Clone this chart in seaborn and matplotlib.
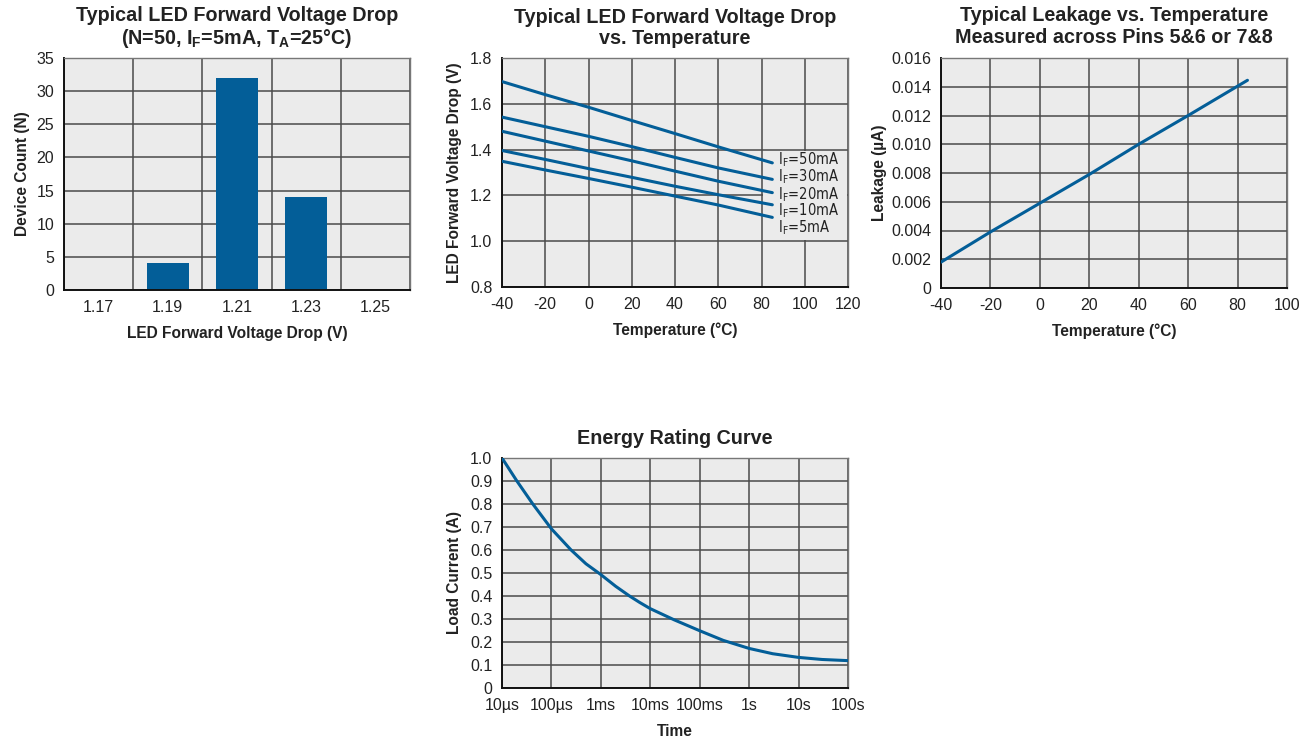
import numpy as np
import pandas as pd
import matplotlib
matplotlib.use("Agg")
import matplotlib.pyplot as plt
from matplotlib.patches import Rectangle
from matplotlib.ticker import FixedLocator, FixedFormatter
import seaborn as sns

sns.set_theme(style="white")
plt.rcParams["font.family"] = ["Liberation Sans", "DejaVu Sans"]
plt.rcParams["mathtext.default"] = "regular"
plt.rcParams["axes.unicode_minus"] = False

BLUE = "#035e98"
BG = "#ebebeb"
GRID = "#4a4a4a"

# --- Forward voltage distribution (N=50) ---
vf_bins = ["1.17", "1.19", "1.21", "1.23", "1.25"]
vf_counts = [0, 4, 32, 14, 0]

# --- Forward voltage vs temperature ---
temp_c = [-40, -20, 0, 20, 40, 60, 85]
vf_50ma = [1.697, 1.640, 1.585, 1.527, 1.470, 1.412, 1.342]
vf_30ma = [1.542, 1.500, 1.458, 1.413, 1.366, 1.320, 1.270]
vf_20ma = [1.480, 1.437, 1.394, 1.351, 1.306, 1.262, 1.212]
vf_10ma = [1.396, 1.357, 1.317, 1.279, 1.240, 1.203, 1.159]
vf_5ma = [1.349, 1.311, 1.274, 1.236, 1.197, 1.158, 1.104]
series_labels = ["50mA", "30mA", "20mA", "10mA", "5mA"]

# --- Leakage vs temperature ---
leak_temp_c = [-40, -20, 0, 20, 40, 60, 84]
leak_ua = [0.0018, 0.0039, 0.0059, 0.0079, 0.0100, 0.0120, 0.01445]

# --- Energy rating curve ---
time_s = [1e-5, 2e-5, 4.2e-5, 1e-4, 2.5e-4, 5e-4, 1e-3, 2e-3, 3.8e-3,
          6.1e-3, 1e-2, 3e-2, 1e-1, 3e-1, 1.0, 3.0, 10.0, 30.0, 100.0]
load_a = [1.0, 0.90, 0.80, 0.692, 0.60, 0.54, 0.493, 0.442, 0.40,
          0.372, 0.345, 0.297, 0.249, 0.207, 0.172, 0.149, 0.133, 0.124,
          0.119]
time_ticks = [1e-5, 1e-4, 1e-3, 1e-2, 1e-1, 1.0, 10.0, 100.0]
time_labels = ["10µs", "100µs", "1ms", "10ms", "100ms", "1s", "10s", "100s"]

W, H = 1309, 741
fig = plt.figure(figsize=(W / 100, H / 100), dpi=100)


def box(l, t, r, b):
    return [l / W, 1 - b / H, (r - l) / W, (b - t) / H]


TITLE_FS = 14.2
TICK_FS = 11.5
LABEL_FS = 11.2


def style_axes(ax):
    ax.set_facecolor(BG)
    ax.set_axisbelow(True)
    ax.grid(True, which="major", color=GRID, lw=1.1)
    for side in ("top", "right"):
        ax.spines[side].set_color("#777777")
        ax.spines[side].set_linewidth(1.0)
    for side in ("left", "bottom"):
        ax.spines[side].set_color("#111111")
        ax.spines[side].set_linewidth(1.4)
    ax.tick_params(length=0, labelsize=TICK_FS, colors="#222222")
    ax.tick_params(axis="x", pad=7)
    ax.tick_params(axis="y", pad=7)


def title(ax, text, pad=9, spacing=1.15):
    ax.set_title(text, fontsize=TITLE_FS, fontweight="bold", pad=pad,
                 linespacing=spacing, color="#222222")


def labels(ax, xlab, ylab, ypad=6):
    ax.set_xlabel(xlab, fontsize=LABEL_FS, fontweight="bold", labelpad=8,
                  color="#222222")
    ax.set_ylabel(ylab, fontsize=LABEL_FS, fontweight="bold", labelpad=ypad,
                  color="#222222")


# Panel 1: histogram
ax1 = fig.add_axes(box(64, 58, 410, 290))
hist_df = pd.DataFrame({"vf": vf_bins, "count": vf_counts})
sns.barplot(data=hist_df, x="vf", y="count", color=BLUE, saturation=1,
            width=0.6, linewidth=0, ax=ax1)
style_axes(ax1)
ax1.grid(False, axis="x", which="major")
ax1.set_xticks(np.arange(-0.5, len(vf_bins)), minor=True)
ax1.grid(True, axis="x", which="minor", color=GRID, lw=1.1)
ax1.tick_params(which="minor", length=0)
ax1.set_xlim(-0.5, len(vf_bins) - 0.5)
ax1.set_ylim(0, 35)
ax1.set_yticks(range(0, 36, 5))
labels(ax1, "LED Forward Voltage Drop (V)", "Device Count (N)", ypad=5)
title(ax1, "Typical LED Forward Voltage Drop\n(N=50, I$_F$=5mA, T$_A$=25°C)",
      pad=10, spacing=1.1)

# Panel 2: forward voltage vs temperature
ax2 = fig.add_axes(box(502, 58, 848, 287))
vf_df = pd.concat([
    pd.DataFrame({"temp": temp_c, "vf": v, "current": lab})
    for v, lab in zip([vf_50ma, vf_30ma, vf_20ma, vf_10ma, vf_5ma],
                      series_labels)
])
sns.lineplot(data=vf_df, x="temp", y="vf", hue="current",
             palette=[BLUE] * 5, lw=2.2, legend=False, ax=ax2, zorder=3)
style_axes(ax2)
ax2.set_xlim(-40, 120)
ax2.set_ylim(0.8, 1.8)
ax2.set_xticks(range(-40, 121, 20))
yt2 = np.arange(0.8, 1.81, 0.2)
ax2.set_yticks(yt2)
ax2.set_yticklabels([f"{v:.1f}" for v in yt2])
ax2.add_patch(Rectangle((80.6, 1.004), 39.0, 0.392, facecolor=BG,
                        edgecolor="none", zorder=1))
for lab, yv in zip(series_labels, [1.357, 1.281, 1.204, 1.133, 1.061]):
    ax2.text(87.5, yv, f"I$_F$={lab}", fontsize=10.5, va="center",
             ha="left", color="#222222", zorder=4, family="DejaVu Sans",
             fontstretch="condensed")
labels(ax2, "Temperature (°C)", "LED Forward Voltage Drop (V)")
title(ax2, "Typical LED Forward Voltage Drop\nvs. Temperature", pad=10)

# Panel 3: leakage vs temperature
ax3 = fig.add_axes(box(941, 58, 1287, 288))
leak_df = pd.DataFrame({"temp": leak_temp_c, "leak": leak_ua})
sns.lineplot(data=leak_df, x="temp", y="leak", color=BLUE, lw=2.2, ax=ax3,
             zorder=3)
style_axes(ax3)
ax3.set_xlim(-40, 100)
ax3.set_ylim(0, 0.016)
ax3.set_xticks(range(-40, 101, 20))
yt3 = np.arange(0, 0.0161, 0.002)
ax3.set_yticks(yt3)
ax3.set_yticklabels(["0"] + [f"{v:.3f}" for v in yt3[1:]])
labels(ax3, "Temperature (°C)", "Leakage (µA)", ypad=3)
title(ax3, "Typical Leakage vs. Temperature\nMeasured across Pins 5&6 or 7&8",
      pad=11)

# Panel 4: energy rating curve
ax4 = fig.add_axes(box(502, 458, 848, 688))
energy_df = pd.DataFrame({"time": time_s, "current": load_a})
ax4.set_xscale("log")
sns.lineplot(data=energy_df, x="time", y="current", color=BLUE, lw=2.2,
             ax=ax4, zorder=3)
style_axes(ax4)
ax4.set_xlim(1e-5, 100)
ax4.set_ylim(0, 1.0)
ax4.xaxis.set_major_locator(FixedLocator(time_ticks))
ax4.xaxis.set_major_formatter(FixedFormatter(time_labels))
ax4.xaxis.set_minor_locator(FixedLocator([]))
yt4 = np.arange(0, 1.01, 0.1)
ax4.set_yticks(yt4)
ax4.set_yticklabels(["0"] + [f"{v:.1f}" for v in yt4[1:]])
labels(ax4, "Time", "Load Current (A)")
title(ax4, "Energy Rating Curve", pad=10)

fig.savefig("out.png", dpi=100, facecolor="white")
